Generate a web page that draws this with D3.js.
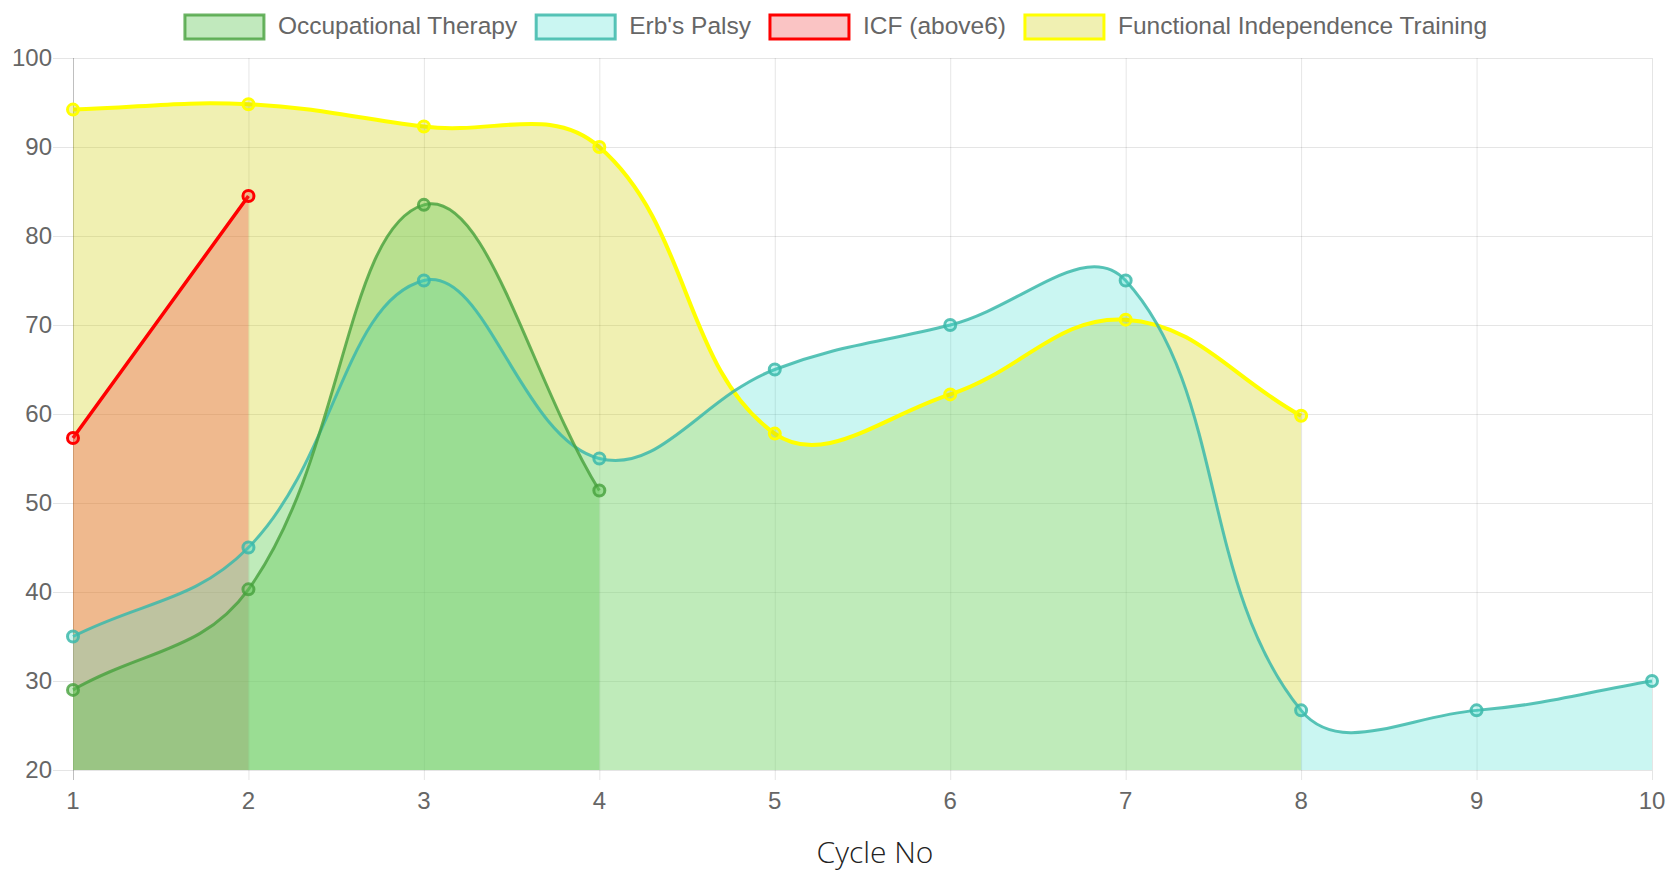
<!DOCTYPE html>
<html lang="en">
<head>
  <meta charset="UTF-8">
  <script src="https://d3js.org/d3.v7.min.js"></script>
  <title>Cycle chart</title>
  <style>
    html, body { margin: 0; padding: 0; background: #fff; }
    svg { display: block; }
  </style>
</head>
<body>
  <script>
    // data
    const cycles = ["1", "2", "3", "4", "5", "6", "7", "8", "9", "10"]
    const yTicks = [20, 30, 40, 50, 60, 70, 80, 90, 100]

    const occupationalTherapy = [29, 40.3, 83.5, 51.4]
    const erbsPalsy = [35, 45, 75, 55, 65, 70, 75, 26.7, 26.7, 30]
    const icfAbove6 = [57.3, 84.5]
    const functionalIndependence = [94.2, 94.8, 92.3, 90, 57.8, 62.2, 70.6, 59.8]

    const seriesNames = ["Occupational Therapy", "Erb's Palsy", "ICF (above6)", "Functional Independence Training"]

    // styles, in legend order
    const styles = [
      { fill: "rgba(100, 200, 90, 0.4)", stroke: "rgba(70, 160, 60, 0.8)", width: 3 },
      { fill: "rgba(64, 224, 208, 0.28)", stroke: "rgba(60, 185, 170, 0.85)", width: 3 },
      { fill: "rgba(240, 60, 60, 0.3)", stroke: "#ff0000", width: 3.5 },
      { fill: "rgba(204, 204, 0, 0.3)", stroke: "#ffff00", width: 4 }
    ]

    const datasets = [occupationalTherapy, erbsPalsy, icfAbove6, functionalIndependence]

    const dimension = {
      width: 1680,
      height: 878,
      left: 73,
      right: 1652,
      top: 58,
      bottom: 770
    }

    const svg = d3.select("body")
        .append("svg")
        .attr("width", dimension.width)
        .attr("height", dimension.height)

    const xScale = d3.scalePoint()
        .domain(cycles)
        .range([dimension.left, dimension.right])
        .padding(0)

    const yScale = d3.scaleLinear()
        .domain([20, 100])
        .range([dimension.bottom, dimension.top])

    // grid
    const yGrid = svg.append("g")
        .attr("transform", `translate(${dimension.left},0)`)
        .call(d3.axisLeft(yScale).tickValues(yTicks).tickSizeInner(20)
          .tickSizeOuter(0).tickFormat(""))
    yGrid.select(".domain").remove()
    yGrid.selectAll(".tick line")
        .attr("x2", dimension.right - dimension.left)
        .attr("x1", -20)
        .attr("stroke", "rgba(0,0,0,0.1)")
        .attr("stroke-width", 1)

    const xGrid = svg.append("g")
        .attr("transform", `translate(0,${dimension.top})`)
        .call(d3.axisBottom(xScale).tickSizeOuter(0).tickFormat(""))
    xGrid.select(".domain").remove()
    xGrid.selectAll(".tick line")
        .attr("y1", 0)
        .attr("y2", dimension.bottom - dimension.top + 10)
        .attr("stroke", (d, i) => i === 0 ? "rgba(0,0,0,0.25)" : "rgba(0,0,0,0.1)")
        .attr("stroke-width", 1)

    // tick labels
    svg.append("g")
        .selectAll("text")
        .data(yTicks)
        .join("text")
        .attr("x", 52)
        .attr("y", d => yScale(d) + 8)
        .attr("text-anchor", "end")
        .attr("fill", "#666")
        .style("font", "24px 'Liberation Sans', Arial, sans-serif")
        .text(d => d)

    svg.append("g")
        .selectAll("text")
        .data(cycles)
        .join("text")
        .attr("x", d => xScale(d))
        .attr("y", 809)
        .attr("text-anchor", "middle")
        .attr("fill", "#666")
        .style("font", "24px 'Liberation Sans', Arial, sans-serif")
        .text(d => d)

    svg.append("text")
        .attr("x", 875)
        .attr("y", 863)
        .attr("text-anchor", "middle")
        .attr("fill", "#222")
        .style("font-family", "'Open Sans', 'Noto Sans', sans-serif")
        .style("font-weight", 300)
        .style("font-size", "30px")
        .text("Cycle No")

    // chart.js style spline (tension 0.4, capped to chart area)
    function splinePath(pts, t) {
      const cps = pts.map((p, i) => {
        const prev = pts[i - 1] || p
        const next = pts[i + 1] || p
        const d01 = Math.hypot(p.x - prev.x, p.y - prev.y)
        const d12 = Math.hypot(next.x - p.x, next.y - p.y)
        let s01 = d01 / (d01 + d12)
        let s12 = d12 / (d01 + d12)
        if (isNaN(s01)) s01 = 0
        if (isNaN(s12)) s12 = 0
        const fa = t * s01
        const fb = t * s12
        const cap = (v, lo, hi) => Math.max(lo, Math.min(hi, v))
        return {
          px: cap(p.x - fa * (next.x - prev.x), dimension.left, dimension.right),
          py: cap(p.y - fa * (next.y - prev.y), dimension.top, dimension.bottom),
          nx: cap(p.x + fb * (next.x - prev.x), dimension.left, dimension.right),
          ny: cap(p.y + fb * (next.y - prev.y), dimension.top, dimension.bottom)
        }
      })
      const path = d3.path()
      path.moveTo(pts[0].x, pts[0].y)
      for (let i = 1; i < pts.length; i++) {
        path.bezierCurveTo(cps[i - 1].nx, cps[i - 1].ny, cps[i].px, cps[i].py, pts[i].x, pts[i].y)
      }
      return path.toString()
    }

    const pointSets = datasets.map(values =>
      values.map((v, i) => ({ x: xScale(cycles[i]), y: yScale(v) })))

    // fills first, last dataset at the bottom
    const order = [3, 2, 1, 0]
    const fills = svg.append("g")
    order.forEach(k => {
      const pts = pointSets[k]
      const line = splinePath(pts, 0.4)
      const last = pts[pts.length - 1]
      fills.append("path")
          .attr("d", `${line}L${last.x},${yScale(20)}L${pts[0].x},${yScale(20)}Z`)
          .attr("fill", styles[k].fill)
    })

    // lines and points
    const lines = svg.append("g")
    order.forEach(k => {
      const pts = pointSets[k]
      lines.append("path")
          .attr("d", splinePath(pts, 0.4))
          .attr("fill", "none")
          .attr("stroke", styles[k].stroke)
          .attr("stroke-width", styles[k].width)
      lines.append("g")
          .selectAll("circle")
          .data(pts)
          .join("circle")
          .attr("cx", d => d.x)
          .attr("cy", d => d.y)
          .attr("r", 5.5)
          .attr("fill", styles[k].fill)
          .attr("stroke", styles[k].stroke)
          .attr("stroke-width", 3)
    })

    // legend, centred like chart.js
    const legend = svg.append("g")
    const items = legend.selectAll("g")
        .data(seriesNames)
        .join("g")
    items.append("rect")
        .attr("x", 0)
        .attr("y", 15)
        .attr("width", 79)
        .attr("height", 24)
        .attr("fill", (d, i) => styles[i].fill)
        .attr("stroke", (d, i) => styles[i].stroke)
        .attr("stroke-width", 3)
    items.append("text")
        .attr("x", 93)
        .attr("y", 34)
        .attr("fill", "#666")
        .style("font", "24.5px 'Liberation Sans', Arial, sans-serif")
        .text(d => d)

    const widths = []
    items.select("text").each(function () { widths.push(93 + this.getComputedTextLength()) })
    const total = d3.sum(widths) + 19 * (widths.length - 1)
    let cursor = 836 - total / 2
    items.attr("transform", (d, i) => {
      const x = cursor
      cursor += widths[i] + 19
      return `translate(${x},0)`
    })
  </script>
</body>
</html>
